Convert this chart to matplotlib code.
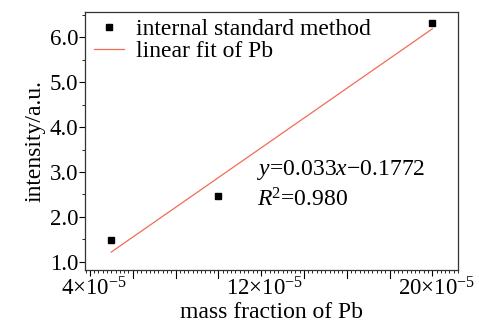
import matplotlib
matplotlib.use("Agg")
from matplotlib import pyplot
from matplotlib.ticker import MultipleLocator, FixedFormatter, FixedLocator
from matplotlib.transforms import ScaledTranslation
import numpy as np

# data (x in units of 1e-5)
mass_fraction = [5, 10, 20]
intensity = [1.49, 2.47, 6.32]
fit_label = r"$y$=0.033$x$$-$0.1772"
r2_label = r"$R$$^2$=0.980"
x_tick_values = [4, 12, 20]
x_tick_labels = [r"4$\times$10$^{-5}$", r"12$\times$10$^{-5}$", r"20$\times$10$^{-5}$"]

pyplot.rcParams["font.family"] = ["Liberation Serif", "DejaVu Serif"]
pyplot.rcParams["mathtext.fontset"] = "custom"
pyplot.rcParams["mathtext.rm"] = "Liberation Serif"
pyplot.rcParams["mathtext.it"] = "Liberation Serif:italic"

fig = pyplot.figure(figsize=(4.79, 3.25), dpi=100)
ax = fig.add_axes([85/479, 55/325, 373/479, 258/325])

#least squares line through the points
slope, icpt = np.polyfit(mass_fraction, intensity, 1)
xf = np.array([mass_fraction[0], mass_fraction[-1]])
ax.plot(mass_fraction, intensity, "s", color="black", ms=4.5, label="internal standard method")
ax.plot(xf, slope*xf + icpt, color="#f26b55", lw=0.9, label="linear fit of Pb")

ax.set_xlim(3.77, 21.2)
ax.set_ylim(0.82, 6.56)

ax.xaxis.set_major_locator(FixedLocator(x_tick_values))
ax.xaxis.set_major_formatter(FixedFormatter(x_tick_labels))
ax.xaxis.set_minor_locator(MultipleLocator(0.2))
ax.yaxis.set_major_locator(MultipleLocator(1.0))
ax.yaxis.set_minor_locator(MultipleLocator(0.5))
ax.yaxis.set_major_formatter(matplotlib.ticker.FormatStrFormatter("%.1f"))

ax.tick_params(which="major", length=4, width=0.8, labelsize=16.5, pad=1)
ax.tick_params(which="minor", length=2.5, width=0.6)
# nudge x labels right a little, like the reference
shift = ScaledTranslation(4/100, 0, fig.dpi_scale_trans)
for lbl in ax.get_xticklabels():
    lbl.set_transform(lbl.get_transform() + shift)
# medium ticks every 2e-5 on x
for v in np.arange(4, 21, 2):
    if v not in x_tick_values:
        ax.plot([v, v], [0, -0.03], transform=ax.get_xaxis_transform(),
                color="black", lw=0.8, clip_on=False)

for s in ax.spines.values():
    s.set_linewidth(0.9)
    s.set_color("#333333")

ax.set_xlabel("mass fraction of Pb", fontsize=17, labelpad=1)
ax.set_ylabel("intensity/a.u.", fontsize=17, labelpad=3)

ax.legend(loc="upper left", frameon=False, fontsize=17, handlelength=1.25,
          borderaxespad=0, borderpad=0.4, handletextpad=0.5, labelspacing=0.0,
          bbox_to_anchor=(0.0, 1.01))

ax.text(0.46, 0.387, fit_label, transform=ax.transAxes, fontsize=17, va="center")
ax.text(0.46, 0.27, r2_label, transform=ax.transAxes, fontsize=17, va="center")

fig.savefig("out.png", dpi=100)
